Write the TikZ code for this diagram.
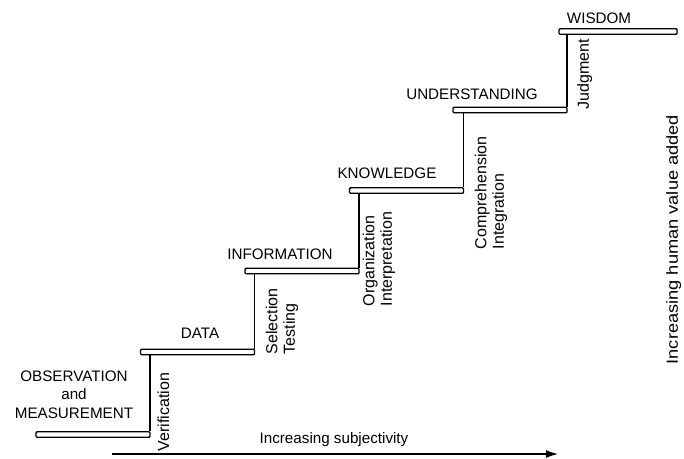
\documentclass[tikz,border=0pt]{standalone}
\usepackage{fontspec}
\setmainfont{Liberation Sans}
\usepackage{tikz}
\usetikzlibrary{arrows.meta}

\begin{document}
\begin{tikzpicture}[x=1pt,y=-1pt,line width=1.4pt]
        \tikzset{tread/.style={draw, rectangle, rounded corners=1pt, inner sep=0pt, minimum width=114pt, minimum height=5.5pt},
                 stage/.style={inner sep=0pt, font=\fontsize{15.2}{18.5}\selectfont, align=center},
                 step label/.style={inner sep=0pt, font=\fontsize{16}{17.5}\selectfont, align=left, rotate=90, anchor=south west}}
        \useasboundingbox (0,0) rectangle (684,458);

	%---NODES---
        \node[tread] (t1) at (93,434.5) {};
        \node[tread] (t2) at (197.5,352) {};
        \node[tread] (t3) at (302,271) {};
        \node[tread] (t4) at (406.5,190.5) {};
        \node[tread] (t5) at (510,110) {};
        \node[tread, minimum width=118pt] (t6) at (618,31.5) {};

        \node[stage] (obs) at (74,394.5) {OBSERVATION\\and\\MEASUREMENT};
        \node[stage] (data) at (200,333) {DATA};
        \node[stage] (info) at (280,254.5) {INFORMATION};
        \node[stage] (know) at (387,173) {KNOWLEDGE};
        \node[stage] (under) at (472,94) {UNDERSTANDING};
        \node[stage] (wis) at (599,18) {WISDOM};

        \node[step label] (verif) at (170,452) {Verification};
        \node[step label] (selec) at (299,355) {Selection\\Testing};
        \node[step label] (organ) at (396,307) {Organization\\Interpretation};
        \node[step label] (compr) at (508,250) {Comprehension\\Integration};
        \node[step label] (judg) at (593,110) {Judgment};
        \node[step label] (human) at (682,365) {\scalebox{1.14}[1]{Increasing human value added}};

        \node[stage] (subj) at (334,440) {Increasing subjectivity};
        \coordinate (arrS) at (112,454);
        \coordinate (arrE) at (558,454);

	%---EDGES---
        \draw[-]    ([xshift=-0.7pt]t1.north east) -- ([xshift=-0.7pt]t1.north east |- t2.south) ;
        \draw[-]    ([xshift=-0.7pt]t2.north east) -- ([xshift=-0.7pt]t2.north east |- t3.south) ;
        \draw[-]    ([xshift=-0.7pt]t3.north east) -- ([xshift=-0.7pt]t3.north east |- t4.south) ;
        \draw[-]    ([xshift=-0.7pt]t4.north east) -- ([xshift=-0.7pt]t4.north east |- t5.south) ;
        \draw[-]    ([xshift=-0.7pt]t5.north east) -- ([xshift=-0.7pt]t5.north east |- t6.south) ;

        \draw[-{Latex[length=12pt,width=8pt]}, line width=1.3pt]   (arrS) -- (arrE) ;
    \end{tikzpicture}
\end{document}
